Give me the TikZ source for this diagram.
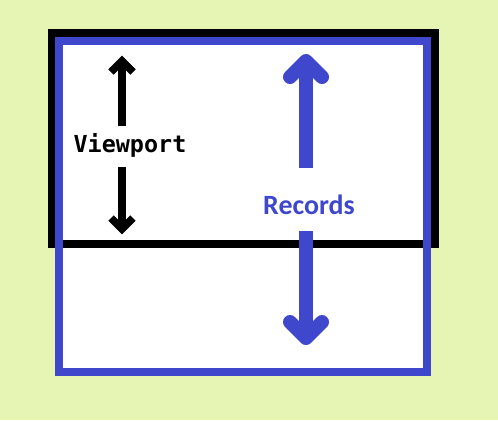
\documentclass[tikz,border=0pt]{standalone}
\usepackage{fontspec}
\newfontfamily\monob{DejaVu Sans Mono}[BoldFont={DejaVu Sans Mono Bold}]
\newfontfamily\carb{Carlito}
\definecolor{bgg}{HTML}{E6F5B3}
\definecolor{recblue}{HTML}{3F47CC}
\tikzset{
  frameblack/.style={draw=black, line width=8bp, fill=white},
  frameblue/.style={draw=recblue, line width=8bp},
  shaftblack/.style={draw=black, line width=8.5bp},
  headblack/.style={draw=black, line width=7.5bp, line join=miter},
  shaftblue/.style={draw=recblue, line width=14bp},
  headblue/.style={draw=recblue, line width=14bp, line cap=round, line join=round},
  lbl/.style={inner sep=0pt, anchor=center}
}
\begin{document}
\begin{tikzpicture}[x=1bp,y=-1bp]
\fill[bgg] (0,0) rectangle (498,420);
\useasboundingbox (0,0) rectangle (498,420);
\fill[white] (59,41) rectangle (427,372);
\draw[frameblack] (52,33) rectangle (435,244);
\draw[frameblue] (59,41) rectangle (427,372);
% Viewport arrows
\coordinate (vtop) at (122,61);
\coordinate (vupbot) at (122,126);
\coordinate (vdntop) at (122,167);
\coordinate (vbot) at (122,229);
\draw[shaftblack] (vupbot) -- (vtop);
\draw[headblack] (111,72) -- (vtop) -- (133,72);
\draw[shaftblack] (vdntop) -- (vbot);
\draw[headblack] (111,218) -- (vbot) -- (133,218);
\node[lbl, font=\monob\bfseries\fontsize{23.5}{25}\selectfont] (vp) at (130,145) {Viewport};
% Records arrows
\coordinate (rtop) at (306,61);
\coordinate (rupbot) at (306,168);
\coordinate (rdntop) at (306,231);
\coordinate (rbot) at (306,338);
\draw[shaftblue] (rupbot) -- (rtop);
\draw[headblue] (290,77) -- (rtop) -- (322,77);
\draw[shaftblue] (rdntop) -- (rbot);
\draw[headblue] (290,322) -- (rbot) -- (322,322);
\node[lbl, text=recblue, font=\carb\bfseries\fontsize{28}{30}\selectfont] (rec) at (309,205) {Records};
\end{tikzpicture}
\end{document}
